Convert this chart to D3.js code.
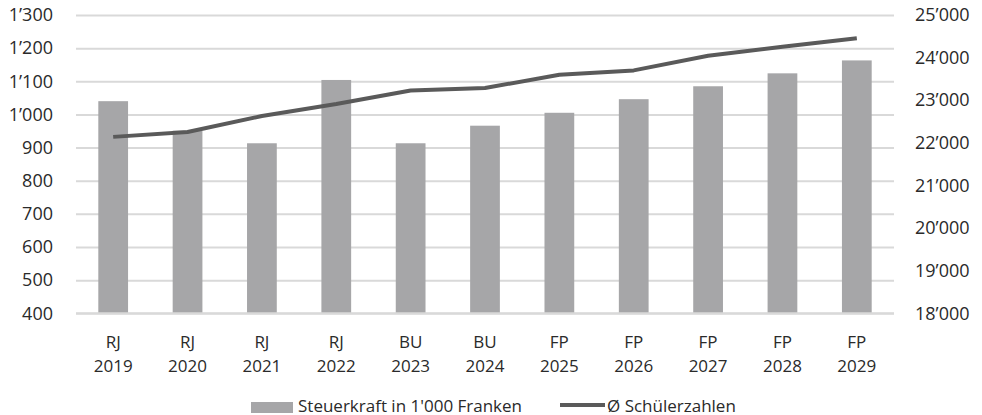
<!DOCTYPE html>
<html>
<head>
<meta charset="utf-8">
<script src="https://cdn.jsdelivr.net/npm/d3@7"></script>
<style>
  html, body { margin: 0; padding: 0; background: #fff; }
  svg { display: block; }
  text { font-family: "Open Sans", sans-serif; fill: #2a2a2a; }
</style>
</head>
<body>
<div id="chart"></div>
<script>
const categoryTop = ["RJ", "RJ", "RJ", "RJ", "BU", "BU", "FP", "FP", "FP", "FP", "FP"];
const categoryYear = ["2019", "2020", "2021", "2022", "2023", "2024", "2025", "2026", "2027", "2028", "2029"];
const steuerkraft = [1040, 951, 913, 1104, 913, 966, 1005, 1046, 1085, 1124, 1163];
const schueler = [22140, 22255, 22630, 22910, 23230, 23285, 23600, 23700, 24045, 24256, 24453];
const leftTicks = [400, 500, 600, 700, 800, 900, 1000, 1100, 1200, 1300];
const rightTicks = [18000, 19000, 20000, 21000, 22000, 23000, 24000, 25000];
const legendLabels = ["Steuerkraft in 1'000 Franken", "Ø Schülerzahlen"];

const W = 982, H = 415;
const plot = { left: 76, right: 894, top: 15, bottom: 313.3 };
const barColor = "#a6a6a8", lineColor = "#5a5a5a", gridColor = "#d9d9d9", textColor = "#2a2a2a";

const loc = d3.formatLocale({ decimal: ".", thousands: "\u2019", grouping: [3], currency: ["", ""] });
const fmt = loc.format(",d");

const svg = d3.select("#chart").append("svg").attr("width", W).attr("height", H);

const idx = d3.range(categoryYear.length);
const x = d3.scaleBand().domain(idx).range([plot.left, plot.right]).paddingInner(0.6).paddingOuter(0.3);
const yL = d3.scaleLinear().domain([400, 1300]).range([plot.bottom, plot.top]);
const yR = d3.scaleLinear().domain([18000, 25000]).range([plot.bottom, plot.top]);

// gridlines + left axis
const gL = svg.append("g").attr("transform", `translate(${plot.left},0)`)
  .call(d3.axisLeft(yL).tickValues(leftTicks).tickFormat(fmt).tickSize(-(plot.right - plot.left)).tickPadding(23));
gL.select(".domain").remove();
gL.selectAll(".tick line").attr("stroke", gridColor).attr("stroke-width", 2);
gL.selectAll(".tick text").attr("font-size", 18).attr("fill", textColor).style("font-family", "'Open Sans', sans-serif");

// right axis
const gR = svg.append("g").attr("transform", `translate(${plot.right},0)`)
  .call(d3.axisRight(yR).tickValues(rightTicks).tickFormat(fmt).tickSize(0).tickPadding(21));
gR.select(".domain").remove();
gR.selectAll(".tick text").attr("font-size", 18).attr("fill", textColor).style("font-family", "'Open Sans', sans-serif");

// bars
svg.append("g").selectAll("rect").data(steuerkraft).join("rect")
  .attr("x", (d, i) => x(i))
  .attr("width", x.bandwidth())
  .attr("y", d => yL(d))
  .attr("height", d => yL(400) - yL(d))
  .attr("fill", barColor);

// baseline
svg.append("line").attr("x1", plot.left).attr("x2", plot.right)
  .attr("y1", yL(400)).attr("y2", yL(400)).attr("stroke", gridColor).attr("stroke-width", 2);

// line
const line = d3.line().x((d, i) => x(i) + x.bandwidth() / 2).y(d => yR(d));
svg.append("path").datum(schueler).attr("d", line)
  .attr("fill", "none").attr("stroke", lineColor).attr("stroke-width", 4).attr("stroke-linejoin", "round");

// category labels
const cat = svg.append("g").selectAll("text").data(idx).join("text")
  .attr("text-anchor", "middle").attr("font-size", 17);
cat.append("tspan").attr("x", i => x(i) + x.bandwidth() / 2).attr("y", 348).text(i => categoryTop[i]);
cat.append("tspan").attr("x", i => x(i) + x.bandwidth() / 2).attr("y", 372).text(i => categoryYear[i]);

// legend
const lg = svg.append("g");
lg.append("rect").attr("x", 251).attr("y", 402).attr("width", 42).attr("height", 11).attr("fill", barColor);
lg.append("text").attr("x", 298).attr("y", 411.5).attr("font-size", 17).text(legendLabels[0]);
lg.append("line").attr("x1", 560).attr("x2", 605).attr("y1", 405).attr("y2", 405)
  .attr("stroke", lineColor).attr("stroke-width", 4);
lg.append("text").attr("x", 607).attr("y", 411.5).attr("font-size", 17).text(legendLabels[1]);
</script>
</body>
</html>
